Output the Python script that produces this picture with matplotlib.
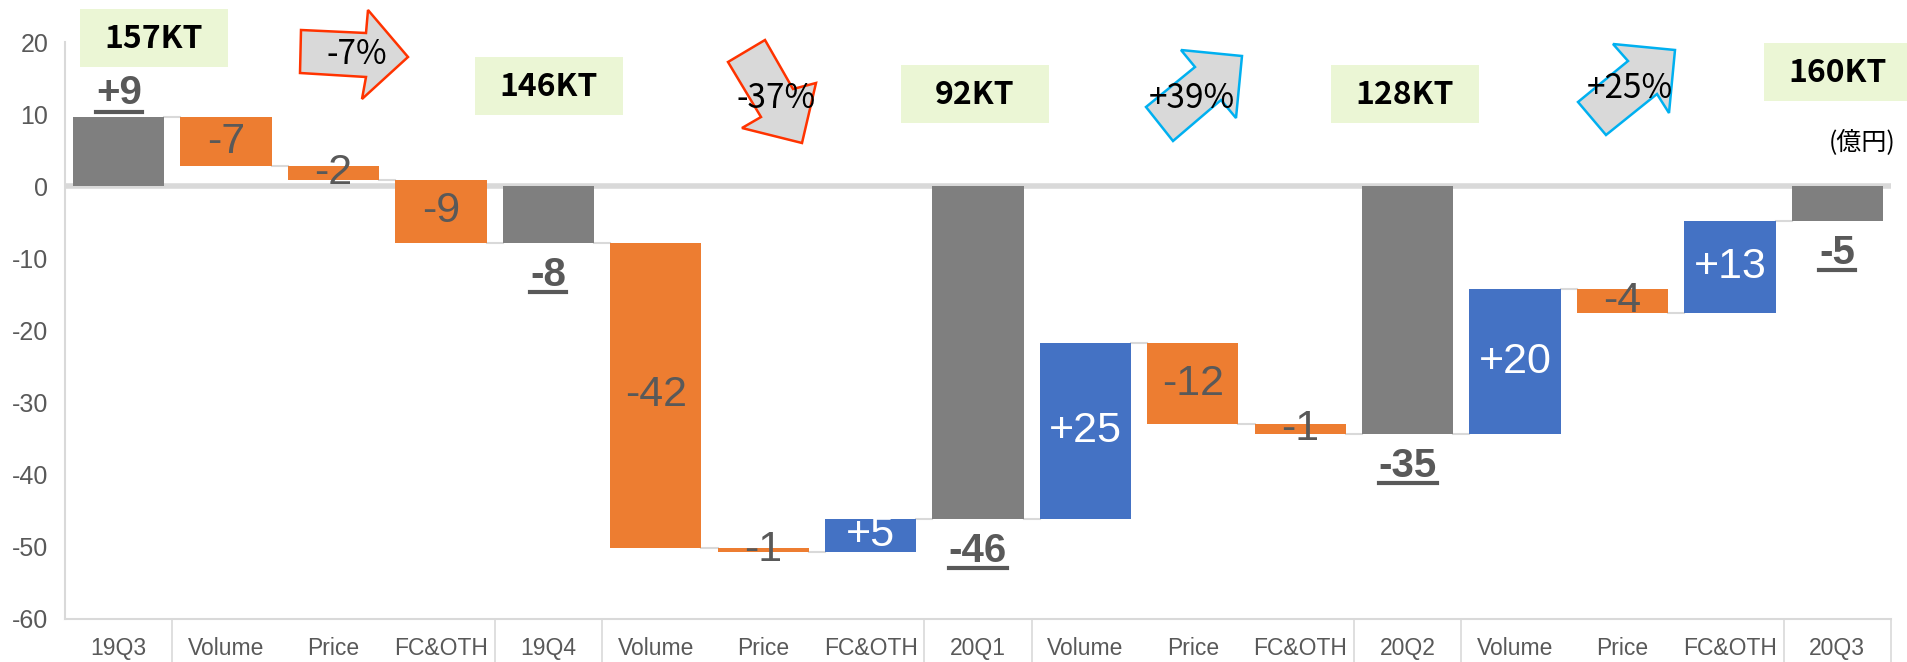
import numpy as np
import matplotlib
matplotlib.use("Agg")
import matplotlib.pyplot as plt
import matplotlib.patches as patches
from matplotlib.transforms import Affine2D, IdentityTransform, blended_transform_factory
from matplotlib.lines import Line2D

plt.rcParams['axes.unicode_minus'] = False

# --- data ---
categories = ['19Q3', 'Volume', 'Price', 'FC&OTH', '19Q4', 'Volume', 'Price', 'FC&OTH',
              '20Q1', 'Volume', 'Price', 'FC&OTH', '20Q2', 'Volume', 'Price', 'FC&OTH', '20Q3']
is_total = [True, False, False, False, True, False, False, False,
            True, False, False, False, True, False, False, False, True]
# totals are levels, the others are changes
amounts = [9.6, -6.8, -1.9, -8.7, -7.8, -42.3, -0.6, 4.6,
           -46.1, 24.4, -11.3, -1.4, -34.4, 20.2, -3.4, 12.8, -4.8]
bar_labels = ['+9', '-7', '-2', '-9', '-8', '-42', '-1', '+5',
              '-46', '+25', '-12', '-1', '-35', '+20', '-4', '+13', '-5']

volume_kt = ['157KT', '146KT', '92KT', '128KT', '160KT']
change_pct = ['-7%', '-37%', '+39%', '+25%']
unit_label = '(億円)'

GRAY = '#7F7F7F'
ORANGE = '#ED7D31'
BLUE = '#4472C4'
TXT = '#595959'
LINE = '#D9D9D9'

W, H = 1907, 662
fig = plt.figure(figsize=(W / 100, H / 100), dpi=100)
# pixel coords of the picture (y down)
px = Affine2D().scale(1 / W, -1 / H).translate(0, 1) + fig.transFigure

ax = fig.add_axes([65 / W, 1 - 619 / H, (1891 - 65) / W, (619 - 42) / H])

x = np.arange(len(categories))
bottoms, tops, colors = [], [], []
level = 0.0
for t, a in zip(is_total, amounts):
    if t:
        level = a
        bottoms.append(0.0)
        tops.append(a)
        colors.append(GRAY)
    else:
        bottoms.append(level)
        tops.append(level + a)
        level = level + a
        colors.append(ORANGE if a < 0 else BLUE)
bottoms = np.array(bottoms)
tops = np.array(tops)

bw = 0.85
ax.bar(x, tops - bottoms, bottom=bottoms, width=bw, color=colors, zorder=3)
ax.axhline(0, color=LINE, lw=4, zorder=2)

# connector lines
for i in range(len(x) - 1):
    lv = tops[i]
    ax.plot([x[i] + bw / 2, x[i + 1] - bw / 2], [lv, lv], color=LINE, lw=1.5, zorder=2)

ax.set_xlim(-0.5, len(x) - 0.5)
ax.set_ylim(-60, 20)
ax.set_yticks(range(-60, 21, 10))
ax.set_xticks(x)
ax.set_xticklabels(categories)
ax.tick_params(axis='y', length=0, pad=12, labelsize=18, labelcolor=TXT)
ax.tick_params(axis='x', length=0, pad=13, labelsize=16.5, labelcolor=TXT)
for lab in ax.get_xticklabels() + ax.get_yticklabels():
    lab.set_fontfamily('Liberation Sans')
for s in ['top', 'right']:
    ax.spines[s].set_visible(False)
for s in ['left', 'bottom']:
    ax.spines[s].set_color(LINE)
    ax.spines[s].set_linewidth(1.5)

# group separators under the axis
bt = blended_transform_factory(ax.transData, ax.transAxes)
for i, t in enumerate(is_total):
    if t:
        for xb in [i - 0.5, i + 0.5]:
            if xb > -0.5:
                ax.plot([xb, xb], [0, -0.08], transform=bt, color=LINE, lw=1.2, clip_on=False)

# labels on the bars
fig.canvas.draw()
renderer = fig.canvas.get_renderer()
for i in range(len(x)):
    if is_total[i]:
        lv = tops[i]
        xd, yd = ax.transData.transform((x[i], lv))
        if lv >= 0:
            yb, yu = yd + 13, yd + 5
        else:
            yb, yu = yd - 43, yd - 49
        t = fig.text(xd, yb, bar_labels[i], transform=IdentityTransform(), ha='center',
                     va='baseline', fontsize=29, fontweight='bold', color=TXT,
                     family='Liberation Sans')
        bb = t.get_window_extent(renderer)
        fig.add_artist(Line2D([bb.x0, bb.x1], [yu, yu], transform=IdentityTransform(),
                              color=TXT, lw=3))
    else:
        mid = (tops[i] + bottoms[i]) / 2
        c = 'white' if amounts[i] > 0 else TXT
        ax.text(x[i], mid, bar_labels[i], ha='center', va='center', fontsize=31,
                color=c, family='Liberation Sans', zorder=5)

# volume boxes
kt_boxes = [(80, 9), (475, 57), (901, 65), (1331, 65), (1764, 43)]
for (bx, by), s in zip(kt_boxes, volume_kt):
    fig.add_artist(patches.Rectangle((bx, by), 148, 58, transform=px,
                                     facecolor='#EBF6D5', edgecolor='none'))
    fig.text(bx + 74, by + 30, s, transform=px, ha='center', va='center',
             fontsize=23, fontweight='bold', color='black', family='Noto Sans CJK JP')

# block arrows
arrows = [
    [(301, 30), (366, 33), (368, 10), (408, 57), (362, 99), (366, 77), (300, 73)],
    [(728, 62), (761, 117), (742, 128), (802, 143), (816, 83), (793, 89), (765, 40)],
    [(1146, 107), (1195, 67), (1181, 50), (1242, 56), (1236, 118), (1221, 100), (1173, 141)],
    [(1578, 102), (1628, 61), (1613, 44), (1675, 50), (1669, 113), (1657, 94), (1606, 135)],
]
arrow_edge = ['#FF3300', '#FF3300', '#00B0F0', '#00B0F0']
arrow_txt = [(357, 55), (776, 98), (1192, 99), (1630, 89)]
for pts, ec, (tx, ty), s in zip(arrows, arrow_edge, arrow_txt, change_pct):
    fig.add_artist(patches.Polygon(pts, closed=True, transform=px,
                                   facecolor='#D9D9D9', edgecolor=ec, lw=1.8))
    fig.text(tx, ty, s, transform=px, ha='center', va='center', fontsize=24,
             color='black', family='Noto Sans CJK JP')

fig.text(1862, 143, unit_label, transform=px, ha='center', va='center', fontsize=18,
         color='black', family='Noto Sans CJK JP')

fig.savefig('out.png', dpi=100)
